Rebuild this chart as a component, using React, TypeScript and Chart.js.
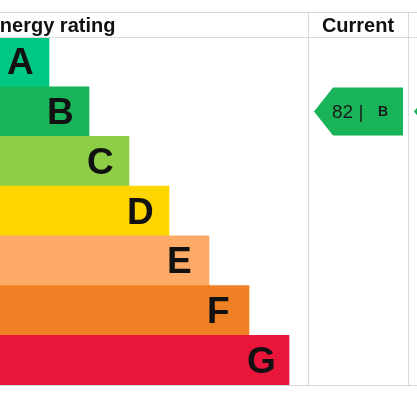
import React, { useEffect, useRef } from "react";
import { Chart, registerables } from "chart.js";

Chart.register(...registerables);

// Bands (rows) and their bar lengths (in band steps)
const bands = ["A", "B", "C", "D", "E", "F", "G"];
const bandLengths = [1, 2, 3, 4, 5, 6, 7];
const bandColors = ["#00c781", "#19b459", "#8dce46", "#ffd500", "#fcaa65", "#ef8023", "#e9153b"];

// Ratings
const currentScore = 82;
const currentBand = "B";
const potentialScore = 86;
const potentialBand = "B";

const headerTitle = "Energy rating";
const columnTitles = ["Current", "Potential"];

const XMIN = -0.225;
const XMAX = 9.975;

const W = 417;
const H = 417;

export default function App() {
  const ref = useRef<HTMLCanvasElement | null>(null);

  useEffect(() => {
    const canvas = ref.current;
    if (!canvas) return;

    const tablePlugin = {
      id: "epcTable",
      afterDatasetsDraw(chart: any) {
        const ctx = chart.ctx as CanvasRenderingContext2D;
        const ca = chart.chartArea;
        const xs = chart.scales.x;
        const ys = chart.scales.y;
        const colLeft = 308;
        const colRight = 408;
        const colW = colRight - colLeft;
        const topY = 12;
        const headY = ca.top;
        const botY = ca.bottom;

        ctx.save();
        // letters on bars
        ctx.fillStyle = "#111";
        ctx.font = "bold 37px 'Liberation Sans', Arial, sans-serif";
        ctx.textAlign = "left";
        ctx.textBaseline = "alphabetic";
        bands.forEach((b, i) => {
          const xEnd = xs.getPixelForValue(bandLengths[i]);
          const yc = ys.getPixelForValue(i);
          ctx.fillText(b, xEnd - 42, yc + 12.5);
        });

        // grid lines
        ctx.strokeStyle = "#d9d9d9";
        ctx.lineWidth = 1;
        ctx.beginPath();
        ctx.moveTo(0, topY + 0.5);
        ctx.lineTo(W, topY + 0.5);
        ctx.moveTo(0, headY + 0.5);
        ctx.lineTo(W, headY + 0.5);
        ctx.moveTo(0, botY + 0.5);
        ctx.lineTo(W, botY + 0.5);
        ctx.moveTo(colLeft + 0.5, topY);
        ctx.lineTo(colLeft + 0.5, botY);
        ctx.moveTo(colRight + 0.5, topY);
        ctx.lineTo(colRight + 0.5, botY);
        ctx.stroke();

        // header text
        ctx.fillStyle = "#111";
        ctx.font = "bold 20px 'Liberation Sans', Arial, sans-serif";
        ctx.textBaseline = "alphabetic";
        ctx.textAlign = "left";
        ctx.fillText(headerTitle, -13.5, 32);
        ctx.textAlign = "center";
        ctx.fillText(columnTitles[0], colLeft + colW / 2, 32);
        ctx.fillText(columnTitles[1], colRight + colW / 2, 32);

        // arrows
        const drawArrow = (left: number, band: string, score: number) => {
          const idx = bands.indexOf(band);
          const yc = ys.getPixelForValue(idx);
          const half = 24;
          const tip = left + 6;
          const bodyL = left + 25;
          const bodyR = left + 95;
          ctx.fillStyle = bandColors[idx];
          ctx.beginPath();
          ctx.moveTo(tip, yc);
          ctx.lineTo(bodyL, yc - half);
          ctx.lineTo(bodyR, yc - half);
          ctx.lineTo(bodyR, yc + half);
          ctx.lineTo(bodyL, yc + half);
          ctx.closePath();
          ctx.fill();
          ctx.fillStyle = "#1a1a1a";
          ctx.textAlign = "left";
          ctx.textBaseline = "middle";
          ctx.font = "19px 'Liberation Sans', Arial, sans-serif";
          ctx.fillText(score + " |", bodyL - 1, yc + 1);
          ctx.font = "bold 14px 'Liberation Sans', Arial, sans-serif";
          ctx.fillText(band, bodyL + 45, yc + 1);
        };
        drawArrow(colLeft, currentBand, currentScore);
        drawArrow(colRight, potentialBand, potentialScore);
        ctx.restore();
      },
    };

    const chart = new Chart(canvas, {
      type: "bar",
      data: {
        labels: bands,
        datasets: [
          {
            data: bandLengths.map((v) => [XMIN, v]) as any,
            backgroundColor: bandColors,
            borderWidth: 0,
            categoryPercentage: 1,
            barPercentage: 1,
          },
        ],
      },
      options: {
        indexAxis: "y",
        animation: false,
        responsive: false,
        maintainAspectRatio: false,
        layout: { padding: { left: 0, right: W - 408, top: 37, bottom: H - 385 } },
        plugins: { legend: { display: false }, tooltip: { enabled: false } },
        scales: {
          x: { display: false, min: XMIN, max: XMAX },
          y: { display: false },
        },
      },
      plugins: [tablePlugin],
    });

    return () => chart.destroy();
  }, []);

  return (
    <div style={{ position: "fixed", left: 0, top: 0, width: W, height: H, background: "#fff" }}>
      <canvas ref={ref} width={W} height={H} style={{ width: W, height: H, display: "block" }} />
    </div>
  );
}
